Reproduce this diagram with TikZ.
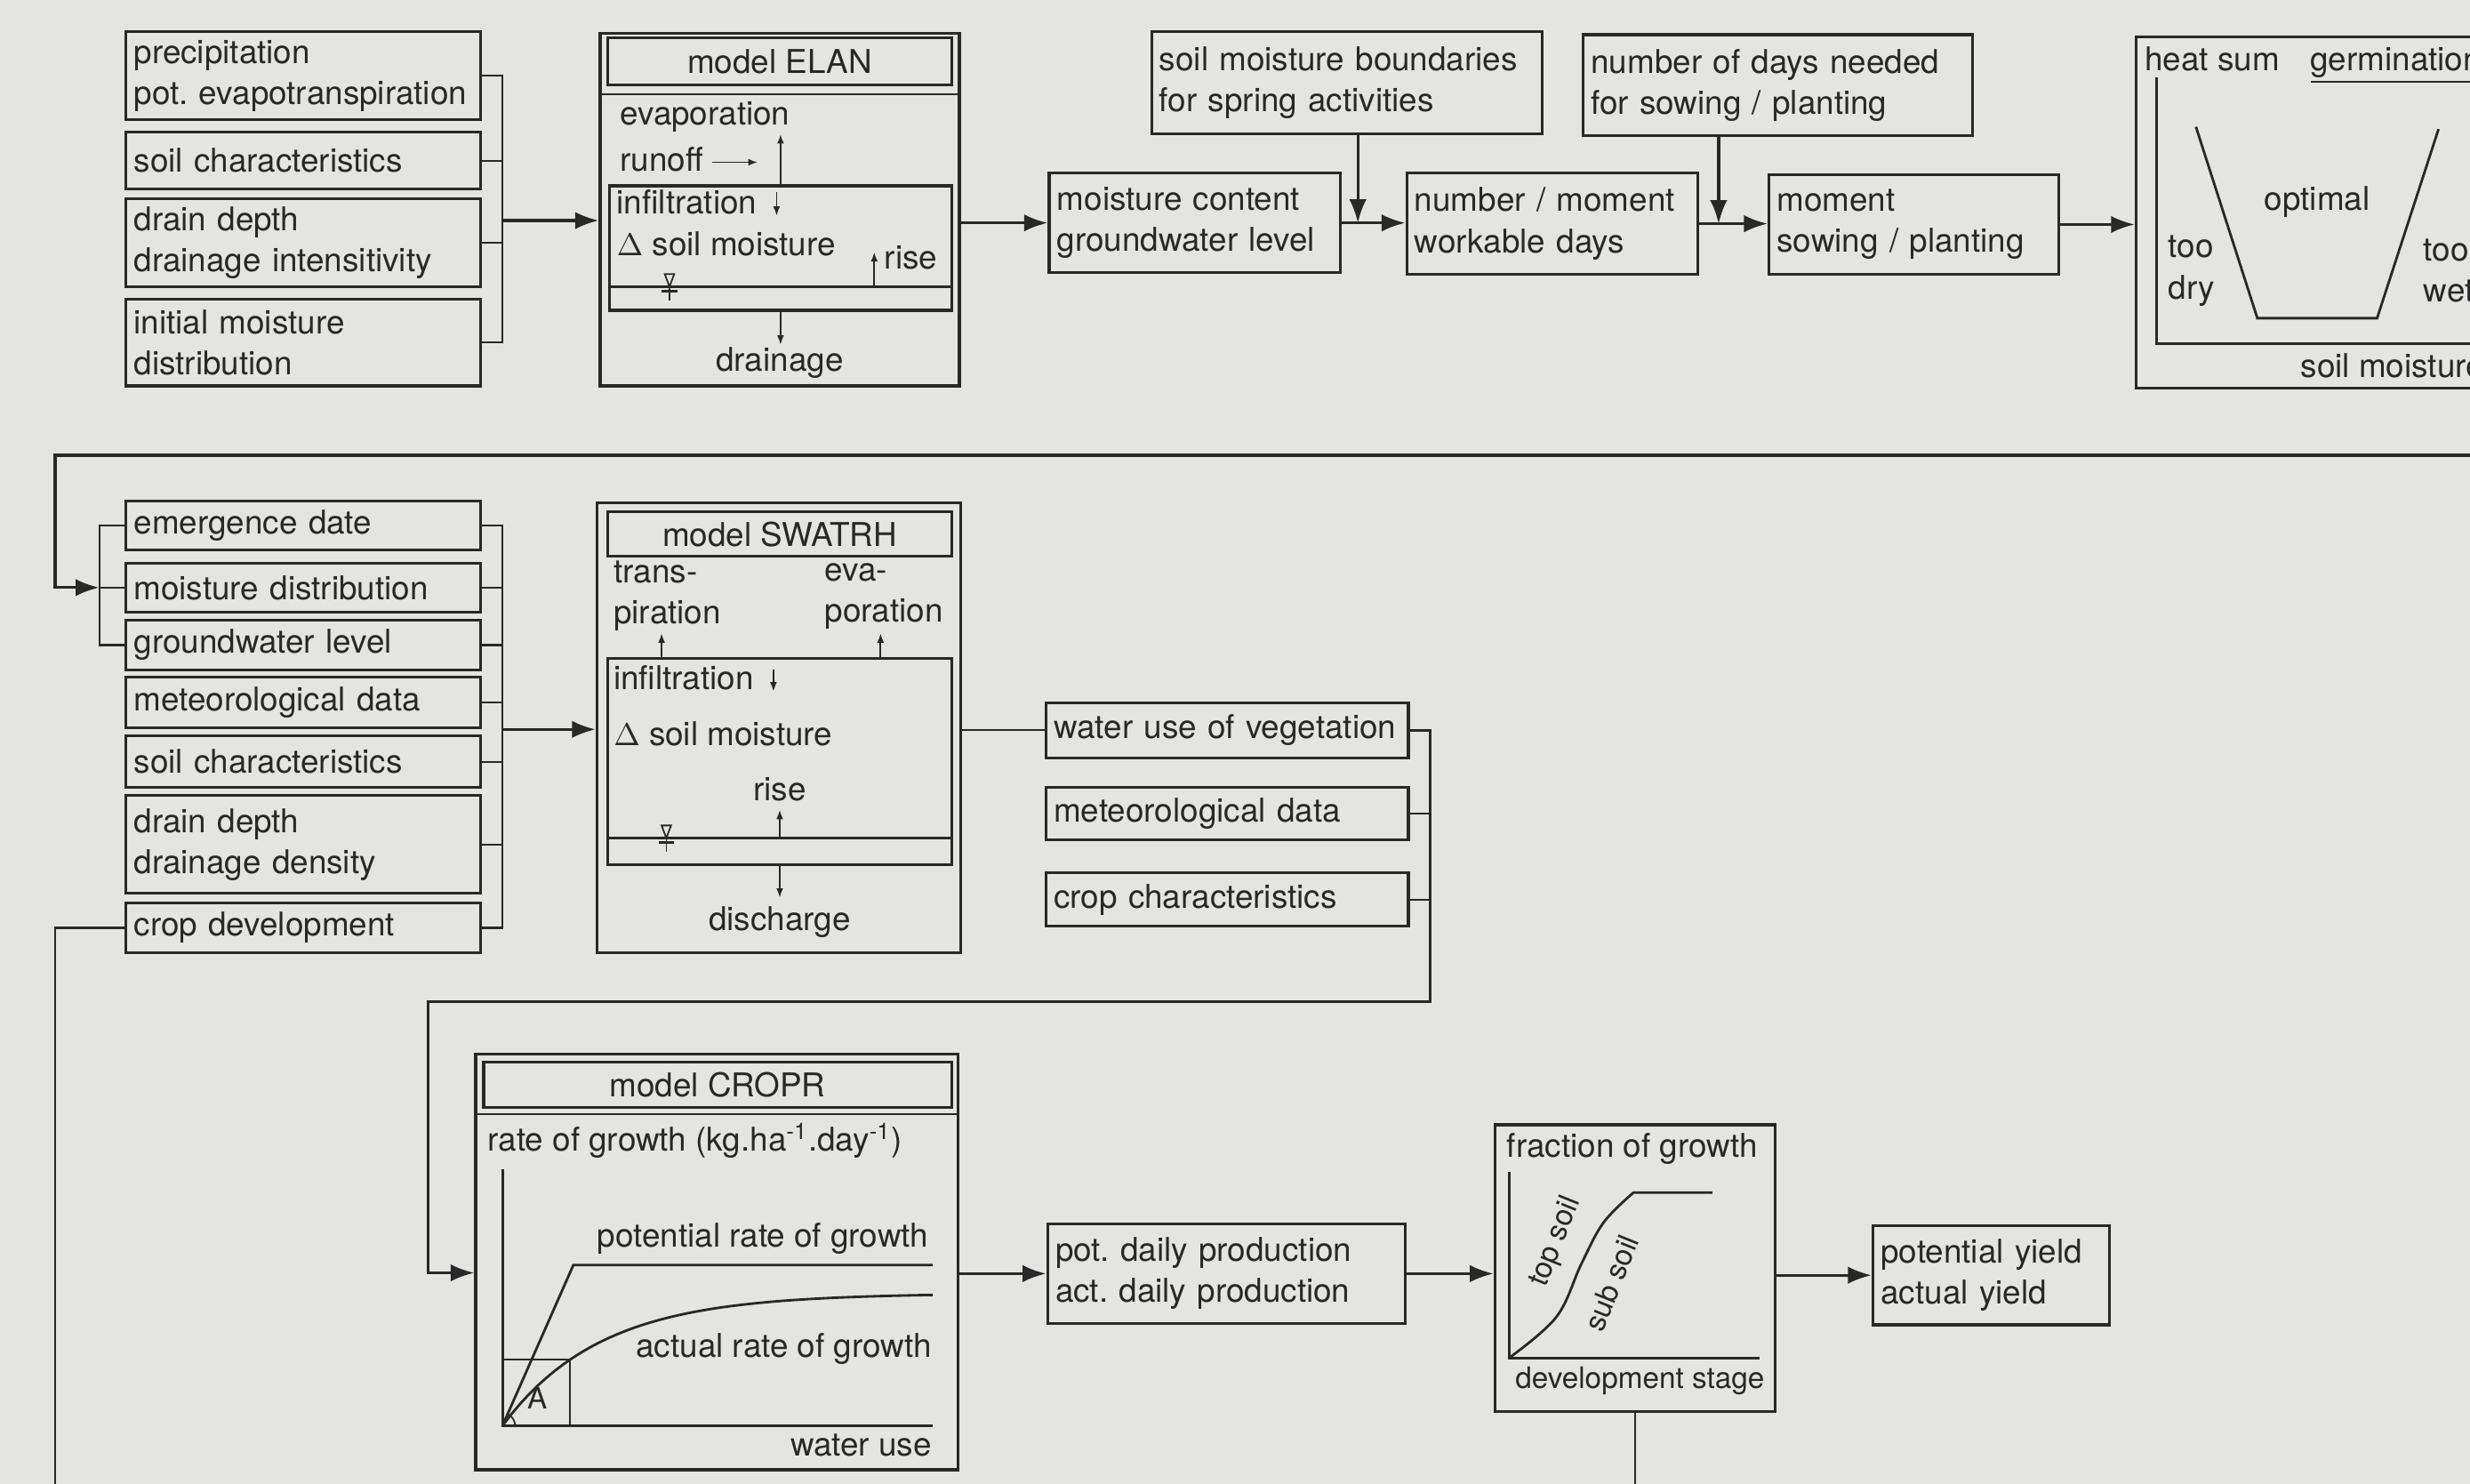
\documentclass[tikz,border=0pt]{standalone}
\usepackage{fontspec}
\setmainfont{TeX Gyre Heros}
\usepackage{tikz}
\usetikzlibrary{arrows.meta}

\definecolor{paper}{RGB}{228,228,226}
\definecolor{ink}{RGB}{40,40,40}

\begin{document}
\begin{tikzpicture}[x=0.5pt, y=-0.5pt, color=ink, line width=0.6pt,
    font=\fontsize{10.4}{13}\selectfont,
    box/.style 2 args={draw, line width=0.9pt, minimum width=#1, text width=#1-5pt,
        minimum height=#2, inner xsep=2.5pt, inner ysep=0pt, align=left},
    frame/.style 2 args={draw, line width=0.9pt, minimum width=#1, minimum height=#2, inner sep=0pt},
    lab/.style={inner sep=0pt, text height=7.5pt, text depth=2pt},
    small/.style={font=\fontsize{9.4}{11}\selectfont},
    flow/.style={-{Latex[length=7.5pt,width=5.5pt]}, line width=0.9pt},
    tick/.style={-{Latex[length=3pt,width=2.2pt]}, line width=0.5pt},
    axis/.style={line width=0.8pt},
    wtab/.pic={\draw[line width=0.5pt] (-3,-8) -- (3,-8) -- (0,0) -- cycle;
               \draw[line width=0.8pt] (-5,3) -- (5,3);
               \draw[line width=0.5pt] (0,0) -- (0,9);}]

    % page
    \useasboundingbox (0,0) rectangle (1568,942);
    \clip (0,0) rectangle (1568,942);
    \fill[paper] (0,0) rectangle (1568,942);

    % inputs for ELAN
    \node[box={112.5pt}{28pt}] (prec) at (192.5,48) {precipitation\\pot.\ evapotranspiration};
    \node[box={112.5pt}{18pt}] (soil1) at (192.5,102) {soil characteristics};
    \node[box={112.5pt}{28pt}] (drain1) at (192.5,154) {drain depth\\drainage intensitivity};
    \node[box={112.5pt}{27.5pt}] (init) at (192.5,217.5) {initial moisture\\distribution};
    \coordinate (j0) at (319,140);
    \draw (prec.east) -| (j0) |- (init.east);
    \draw (soil1.east) -- (soil1.east -| j0);
    \draw (drain1.east) -- (drain1.east -| j0);

    % model ELAN
    \node[frame={114pt}{112pt}] (elan) at (495,133) {};
    \node[frame={109pt}{15pt}] (elanT) at (495,39) {model ELAN};
    \draw (381,60) -- (609,60);
    \node[frame={108.5pt}{39.5pt}] (elanS) at (495.5,157.5) {};
    \node[lab, anchor=west] (evap1) at (393,74) {evaporation};
    \node[lab, anchor=west] (runoff) at (393,103) {runoff};
    \draw[tick] (452,103) -- (481,103);
    \draw[tick] (elanS.north) -- ++(0,-32);
    \node[lab, anchor=west] (infil1) at (391,130) {infiltration};
    \draw[tick] (493,122) -- (493,137);
    \node[lab, anchor=west] (dsm1) at (391,157) {$\Delta$ soil moisture};
    \draw[tick] (555,182) -- (555,160);
    \node[lab, anchor=west] (rise1) at (561,165) {rise};
    \draw (387,182) -- (604,182);
    \pic at (425,182) {wtab};
    \draw[tick] (elanS.south) -- ++(0,21);
    \node[lab] (drain) at (495,230) {drainage};
    \draw[flow] (j0) -- (j0 -| elan.west);

    % top row
    \node[box={92.5pt}{31.5pt}] (mc) at (758.5,141.5) {moisture content\\groundwater level};
    \node[box={124pt}{32.5pt}] (smb) at (855,52.5) {soil moisture boundaries\\for spring activities};
    \node[box={92.5pt}{32pt}] (nm) at (985.5,142) {number / moment\\workable days};
    \node[box={123.5pt}{32pt}] (ndn) at (1128.5,54) {number of days needed\\for sowing / planting};
    \node[box={92pt}{31.5pt}] (ms) at (1215,142.5) {moment\\sowing / planting};
    \node[frame={132pt}{111.5pt}] (heat) at (1488,135) {};
    \draw[flow] (mc.west -| elan.east) -- (mc.west);
    \draw[flow] (mc.east) -- (mc.east -| nm.west);
    \coordinate (j1) at (862,141.5);
    \draw[flow] (j1 |- smb.south) -- (j1);
    \draw[flow] (nm.east) -- (nm.east -| ms.west);
    \coordinate (j2) at (1091,142);
    \draw[flow] (j2 |- ndn.south) -- (j2);
    \draw[flow] (ms.east) -- (ms.east -| heat.west);

    % germination graph
    \node[lab, anchor=west] (hsum) at (1361,39.5) {heat sum};
    \node[lab, anchor=west] (germ) at (1466,39.5) {germination};
    \draw (1467,52) -- (1620,52);
    \draw[axis] (1369,49) -- (1369,218) -- (1620,218);
    \draw[axis] (1394,80.5) -- (1433,202) -- (1509,202) -- (1548,82);
    \node[lab] (opt) at (1471,128) {optimal};
    \node[anchor=west, align=left, inner sep=0pt] (dry) at (1376,172) {too\\dry};
    \node[anchor=west, align=left, inner sep=0pt] (wet) at (1538,172) {too\\wet};
    \node[lab, anchor=west] (smoist) at (1460,234) {soil moisture};

    % back to second row
    \coordinate (back) at (1600,289);
    \coordinate (j3) at (63,373);
    \draw[flow] (back) -| (35,373) -- (j3);

    % inputs for SWATRH
    \node[box={112.5pt}{15.5pt}] (emerg) at (192.5,333.5) {emergence date};
    \node[box={112.5pt}{15.5pt}] (mdist) at (192.5,373) {moisture distribution};
    \node[box={112.5pt}{16pt}] (gwl) at (192.5,409.5) {groundwater level};
    \node[box={112.5pt}{16pt}] (met1) at (192.5,446) {meteorological data};
    \node[box={112.5pt}{16.5pt}] (soil2) at (192.5,483.5) {soil characteristics};
    \node[box={112.5pt}{31pt}] (drain2) at (192.5,536) {drain depth\\drainage density};
    \node[box={112.5pt}{16pt}] (cropd) at (192.5,589) {crop development};
    \draw (emerg.west) -| (j3) |- (gwl.west);
    \draw (j3) -- (mdist.west);
    \coordinate (j4) at (319,463);
    \draw (emerg.east) -| (j4) |- (cropd.east);
    \foreach \n in {mdist,gwl,met1,soil2,drain2}
        \draw (\n.east) -- (\n.east -| j4);

    % model SWATRH
    \node[frame={115.5pt}{143pt}] (swatrh) at (494.5,462) {};
    \node[frame={109pt}{14pt}] (swatrhT) at (495,339) {model SWATRH};
    \node[anchor=west, align=left, inner sep=0pt] (transp) at (389,378.5) {trans-\\piration};
    \node[anchor=west, align=left, inner sep=0pt] (evap2) at (523,378.5) {eva-\\poration};
    \node[frame={109pt}{65.5pt}] (swatrhS) at (495,483.5) {};
    \draw[tick] (420,418) -- (420,402);
    \draw[tick] (559,418) -- (559,402);
    \node[lab, anchor=west] (infil2) at (389,432) {infiltration};
    \draw[tick] (491,425) -- (491,439);
    \node[lab, anchor=west] (dsm2) at (389,468) {$\Delta$ soil moisture};
    \node[lab] (rise2) at (495,503) {rise};
    \draw[tick] (495,532) -- (495,514);
    \draw (386,532) -- (604,532);
    \pic at (423,532) {wtab};
    \draw[tick] (swatrhS.south) -- ++(0,20);
    \node[lab] (disch) at (495,585) {discharge};
    \draw[flow] (j4) -- (j4 -| swatrh.west);

    % inputs for CROPR
    \node[box={115pt}{17.5pt}] (wuv) at (779,463.5) {water use of vegetation};
    \node[box={115pt}{16.5pt}] (met2) at (779,516.5) {meteorological data};
    \node[box={115pt}{17pt}] (cchar) at (779,571) {crop characteristics};
    \draw (wuv.west -| swatrh.east) -- (wuv.west);
    \coordinate (j5) at (908,636);
    \coordinate (j6) at (272,808);
    \draw (met2.east) -- (met2.east -| j5);
    \draw (cchar.east) -- (cchar.east -| j5);

    % model CROPR
    \node[frame={153pt}{132pt}] (cropr) at (455,801) {};
    \node[frame={148.5pt}{14.5pt}] (croprT) at (455.5,688.5) {model CROPR};
    \draw (302,707) -- (608,707);
    \draw[flow] (wuv.east) -| (j5) -| (j6) -- (j6 -| cropr.west);
    \node[lab, anchor=west] (rog) at (309,725) {rate of growth (kg.ha\textsuperscript{-1}.day\textsuperscript{-1})};
    \draw[axis] (319,742) -- (319,905) -- (592,905);
    \draw[axis] (319,905) -- (364,803) -- (592,803);
    \draw[axis] plot[domain=0:273, samples=50] ({319+\x},{905-84*(1-exp(-\x/62))});
    \draw[line width=0.5pt] (319,863) -- (362,863) -- (362,905);
    \draw[line width=0.5pt] (327,905) arc[start angle=0, end angle=-66, radius=8];
    \node[lab, small] (areaA) at (341,889) {A};
    \node[lab, anchor=east] (potr) at (590,786) {potential rate of growth};
    \node[lab, anchor=east] (actr) at (592,856) {actual rate of growth};
    \node[lab, anchor=east] (wuse) at (592,919) {water use};

    % production and yield
    \node[box={113.5pt}{31.5pt}] (pdp) at (778.5,808.5) {pot.\ daily production\\act.\ daily production};
    \node[frame={89pt}{91pt}] (frac) at (1038,805) {};
    \node[box={75pt}{31.5pt}] (yld) at (1264,809.5) {potential yield\\actual yield};
    \draw[flow] (pdp.west -| cropr.east) -- (pdp.west);
    \draw[flow] (pdp.east) -- (pdp.east -| frac.west);
    \draw[flow] (yld.west -| frac.east) -- (yld.west);
    \node[lab, anchor=west] (fog) at (956,729) {fraction of growth};
    \draw[axis] (958,744) -- (958,862) -- (1117,862);
    \draw[axis] plot[smooth, tension=0.6] coordinates {(958,862) (988,836) (1004,802) (1018,776) (1037,757)} -- (1087,757);
    \node[lab, small, rotate=68] (tops) at (987,788) {top soil};
    \node[lab, small, rotate=68] (subs) at (1024,815) {sub soil};
    \node[lab, small] (devst) at (1041,876) {development stage};
    \draw (frac.south) |- (35,960) |- (cropd.west);
\end{tikzpicture}
\end{document}
